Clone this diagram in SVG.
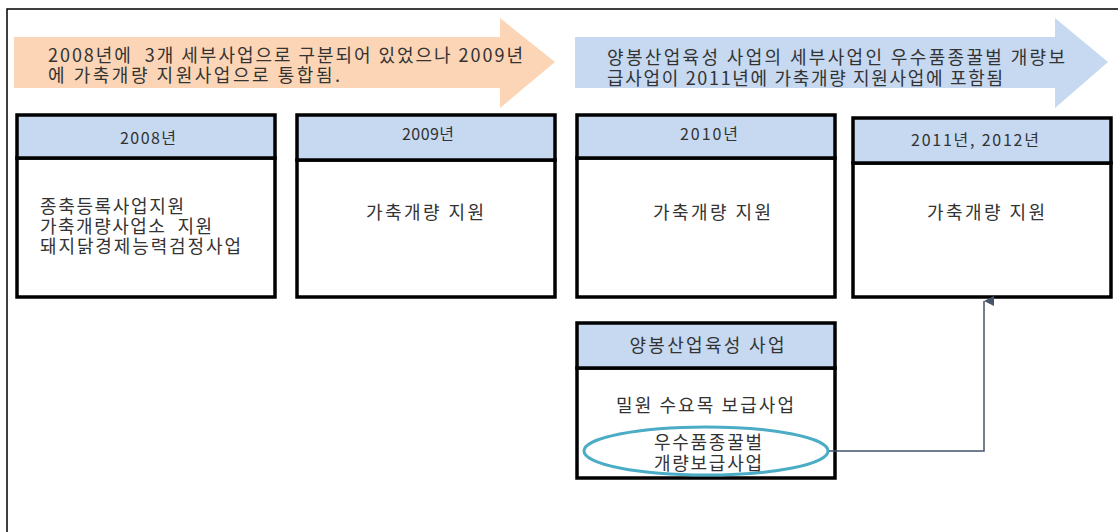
<svg xmlns="http://www.w3.org/2000/svg" width="1118" height="532" viewBox="0 0 1118 532">
<style>
text{font-family:"Noto Sans CJK KR","Noto Sans",sans-serif;fill:#333;font-size:18px;white-space:pre}
.hd{fill:#C6D9F1;stroke:#000;stroke-width:3.5}
.bd{fill:#fff;stroke:#000;stroke-width:3.5}
.m{text-anchor:middle}
.y{font-size:16px}
.conn{fill:none;stroke:#44546A;stroke-width:1.5}
</style>
<defs>
<marker id="ah" markerWidth="10" markerHeight="10" refX="5" refY="0" orient="auto-start-reverse" markerUnits="userSpaceOnUse" viewBox="0 0 10 10">
<path d="M5,0 L10,10 L0,10 Z" fill="#44546A"/>
</marker>
</defs>
<rect width="1118" height="532" fill="#fff"/>
<path d="M7,532 V9 H1118" fill="none" stroke="#000" stroke-width="1.5"/>
<g id="arrow1">
<polygon points="14,37 500,37 500,18 555,62 500,108 500,88 14,88" fill="#FBD5B5"/>
<text><tspan x="48" y="62" textLength="475" lengthAdjust="spacing">2008년에  3개 세부사업으로 구분되어 있었으나 2009년</tspan><tspan x="48" y="82" textLength="292" lengthAdjust="spacing">에 가축개량 지원사업으로 통합됨.</tspan></text>
</g>
<g id="arrow2">
<polygon points="575,37 1055,37 1055,18 1108,62 1055,108 1055,88 575,88" fill="#C6D9F1"/>
<text><tspan x="607" y="64" textLength="458" lengthAdjust="spacing">양봉산업육성 사업의 세부사업인 우수품종꿀벌 개량보</tspan><tspan x="607" y="85" textLength="396" lengthAdjust="spacing">급사업이 2011년에 가축개량 지원사업에 포함됨</tspan></text>
</g>
<g id="box2008">
<rect class="bd" x="17" y="158" width="258" height="139"/>
<rect class="hd" x="17" y="115" width="258" height="43"/>
<text class="y m" x="148" y="144" textLength="56" lengthAdjust="spacing">2008년</text>
<text><tspan x="40" y="213" textLength="144" lengthAdjust="spacing">종축등록사업지원</tspan><tspan x="40" y="233" textLength="172" lengthAdjust="spacing">가축개량사업소  지원</tspan><tspan x="40" y="253" textLength="201" lengthAdjust="spacing">돼지닭경제능력검정사업</tspan></text>
</g>
<g id="box2009">
<rect class="bd" x="297" y="160" width="258" height="137"/>
<rect class="hd" x="297" y="115" width="258" height="45"/>
<text class="y m" x="428" y="140" textLength="52" lengthAdjust="spacing">2009년</text>
<text class="m" x="425" y="219" textLength="118" lengthAdjust="spacing">가축개량 지원</text>
</g>
<g id="box2010">
<rect class="bd" x="577" y="158" width="258" height="139"/>
<rect class="hd" x="577" y="115" width="258" height="43"/>
<text class="y m" x="709" y="140" textLength="58" lengthAdjust="spacing">2010년</text>
<text class="m" x="712" y="219" textLength="118" lengthAdjust="spacing">가축개량 지원</text>
</g>
<g id="box2011">
<rect class="bd" x="853" y="163" width="258" height="134"/>
<rect class="hd" x="853" y="118" width="258" height="45"/>
<text class="y m" x="975" y="146" textLength="128" lengthAdjust="spacing">2011년, 2012년</text>
<text class="m" x="986" y="219" textLength="118" lengthAdjust="spacing">가축개량 지원</text>
</g>
<g id="boxBee">
<rect class="bd" x="577" y="368" width="258" height="110"/>
<rect class="hd" x="577" y="323" width="258" height="45"/>
<text class="m" x="707" y="352" textLength="155" lengthAdjust="spacing">양봉산업육성 사업</text>
<text class="m" x="705" y="412" textLength="178" lengthAdjust="spacing">밀원 수요목 보급사업</text>
<ellipse cx="706" cy="451" rx="122" ry="24" fill="none" stroke="#4BACC6" stroke-width="3"/>
<text class="m"><tspan x="708" y="449" textLength="108" lengthAdjust="spacing">우수품종꿀벌</tspan><tspan x="708" y="470" textLength="108" lengthAdjust="spacing">개량보급사업</tspan></text>
</g>
<g id="connectors">
<path class="conn" d="M829,451 H984 V301" marker-end="url(#ah)"/>
</g>
</svg>
